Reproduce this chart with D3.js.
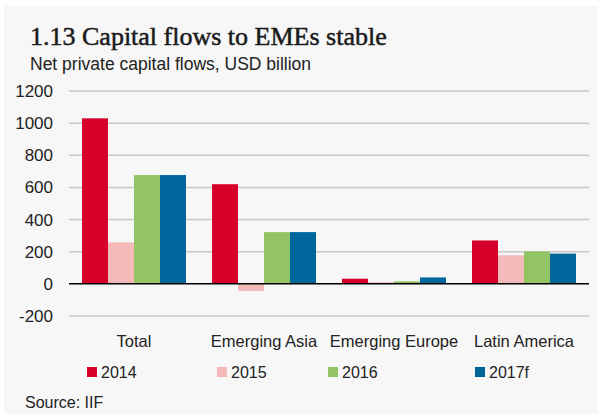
<!DOCTYPE html>
<html><head><meta charset="utf-8">
<script src="https://cdn.jsdelivr.net/npm/d3@7"></script>
<style>body{margin:0;background:#fff;} svg{display:block;}</style>
</head><body>
<script>
const categories = ["Total", "Emerging Asia", "Emerging Europe", "Latin America"];
const seriesNames = ["2014", "2015", "2016", "2017f"];
const v2014 = [1030, 620, 32, 270];
const v2015 = [258, -45, 10, 178];
const v2016 = [677, 322, 16, 202];
const v2017 = [677, 322, 40, 188];
const yTicks = [-200, 0, 200, 400, 600, 800, 1000, 1200];
const colors = ["#d7002a", "#f4b9b9", "#92c464", "#00679d"];

const seriesValues = [v2014, v2015, v2016, v2017];
const SANS = "Liberation Sans, Arial, sans-serif";
const W = 597, H = 414;
const svg = d3.select("body").append("svg").attr("width", W).attr("height", H);
svg.append("rect").attr("x", 4).attr("y", 6).attr("width", W - 4).attr("height", H - 6).attr("fill", "#f7f7f7");

svg.append("text").attr("x", 30).attr("y", 45).attr("font-family", "Liberation Serif, serif")
  .attr("font-size", 26).attr("fill", "#1a1a1a").attr("stroke", "#1a1a1a").attr("stroke-width", 0.5)
  .text("1.13 Capital flows to EMEs stable");
svg.append("text").attr("x", 30).attr("y", 70).attr("font-family", SANS)
  .attr("font-size", 17.5).attr("fill", "#222").text("Net private capital flows, USD billion");

const x = d3.scaleBand().domain(categories).range([69, 589]).paddingInner(0.2).paddingOuter(0.1);
const y = d3.scaleLinear().domain([-200, 1200]).range([316, 91]);
const xs = d3.scaleBand().domain(seriesNames).range([0, x.bandwidth()]);

svg.append("g").selectAll("line").data(yTicks.filter(t => t !== 0)).join("line")
  .attr("x1", 69).attr("x2", 589).attr("y1", d => y(d)).attr("y2", d => y(d))
  .attr("stroke", "#c8c8c8").attr("stroke-width", 1.5);

const yAxis = svg.append("g").attr("transform", "translate(69,0)")
  .call(d3.axisLeft(y).tickValues(yTicks).tickSize(0).tickPadding(16).tickFormat(d => String(d)));
yAxis.select(".domain").remove();
yAxis.selectAll("text").attr("font-family", SANS).attr("font-size", 17).attr("fill", "#222");

seriesNames.forEach((s, si) => {
  svg.append("g").selectAll("rect").data(categories).join("rect")
    .attr("x", c => x(c) + xs(s))
    .attr("width", xs.bandwidth())
    .attr("y", (c, i) => y(Math.max(0, seriesValues[si][i])))
    .attr("height", (c, i) => Math.abs(y(seriesValues[si][i]) - y(0)))
    .attr("fill", colors[si]);
});

svg.append("line").attr("x1", 69).attr("x2", 589).attr("y1", y(0)).attr("y2", y(0))
  .attr("stroke", "#000").attr("stroke-width", 1.5);

const xAxis = svg.append("g").attr("transform", "translate(0,334)")
  .call(d3.axisBottom(x).tickSize(0).tickPadding(0));
xAxis.select(".domain").remove();
xAxis.selectAll("text").attr("font-family", SANS).attr("font-size", 16.5).attr("fill", "#222").attr("dy", "0.78em");

const lx = [87, 217, 328, 475];
seriesNames.forEach((s, i) => {
  const g = svg.append("g").attr("transform", `translate(${lx[i]},367)`);
  g.append("rect").attr("width", 10).attr("height", 10).attr("fill", colors[i]);
  g.append("text").attr("x", 14).attr("y", 11).attr("font-family", SANS)
    .attr("font-size", 16).attr("fill", "#222").text(s);
});

svg.append("text").attr("x", 25).attr("y", 408).attr("font-family", SANS)
  .attr("font-size", 16).attr("fill", "#222").text("Source: IIF");
</script>
</body></html>
